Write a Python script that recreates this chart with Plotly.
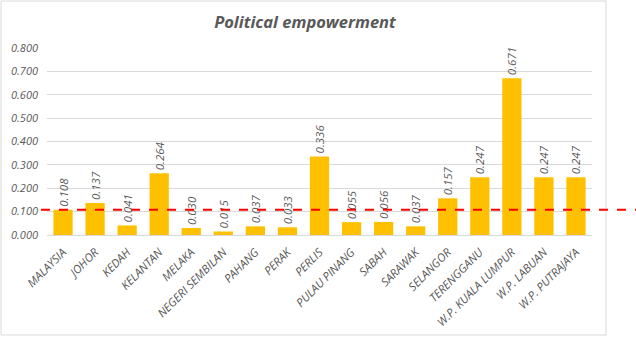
import plotly.graph_objects as go

states = ["MALAYSIA", "JOHOR", "KEDAH", "KELANTAN", "MELAKA", "NEGERI SEMBILAN",
          "PAHANG", "PERAK", "PERLIS", "PULAU PINANG", "SABAH", "SARAWAK",
          "SELANGOR", "TERENGGANU", "W.P. KUALA LUMPUR", "W.P. LABUAN", "W.P. PUTRAJAYA"]
scores = [0.108, 0.137, 0.041, 0.264, 0.030, 0.015, 0.037, 0.033, 0.336,
          0.055, 0.056, 0.037, 0.157, 0.247, 0.671, 0.247, 0.247]
national_avg = 0.108
y_ticks = [0.0, 0.1, 0.2, 0.3, 0.4, 0.5, 0.6, 0.7, 0.8]

W, H = 636, 337
L, R, T, B = 47, 44, 48, 102
pw, ph = W - L - R, H - T - B

def px_x(x):
    return (x - L) / pw

def px_y(y):
    return (H - B - y) / ph

grey = "#595959"
font_family = "'Open Sans', Lato, sans-serif"

fig = go.Figure()
fig.add_trace(go.Bar(
    x=states, y=scores,
    marker=dict(color="#FFC000", line=dict(width=0)),
    text=[f"<i>{v:.3f}</i>" for v in scores],
    textposition="outside",
    textangle=-90,
    constraintext="none",
    textfont=dict(family=font_family, size=11.5, color=grey),
    cliponaxis=False,
))

fig.update_layout(
    width=W, height=H,
    margin=dict(l=L, r=R, t=T, b=B),
    paper_bgcolor="white", plot_bgcolor="white",
    bargap=0.4,
    showlegend=False,
    title=dict(
        text="<b><i>Political empowerment</i></b>",
        font=dict(family=font_family, size=16.5, color=grey),
        x=305 / W, xanchor="center", xref="container",
        y=1 - 22 / H, yanchor="middle",
    ),
    xaxis=dict(
        tickangle=-45,
        tickmode="array",
        tickvals=states,
        ticktext=[f"<i>{s}</i>" for s in states],
        tickfont=dict(family=font_family, size=11.5, color=grey),
        showline=True, linecolor="#D9D9D9", linewidth=1,
        ticks="",
        ticklabelstandoff=5,
        automargin=False,
    ),
    yaxis=dict(
        range=[0, 0.8],
        tickmode="array",
        tickvals=y_ticks,
        ticktext=[f"<i>{v:.3f}</i>" for v in y_ticks],
        tickfont=dict(family=font_family, size=11, color=grey),
        showgrid=True, gridcolor="#D9D9D9", gridwidth=1,
        zeroline=False,
        ticklabelstandoff=8,
        automargin=False,
    ),
    shapes=[
        # chart frame
        dict(type="rect", xref="paper", yref="paper",
             x0=px_x(1), x1=px_x(606), y0=px_y(335), y1=px_y(1),
             line=dict(color="#D9D9D9", width=1), fillcolor="rgba(0,0,0,0)",
             layer="below"),
        # national average reference line
        dict(type="line", xref="paper", yref="y",
             x0=px_x(41), x1=px_x(636), y0=national_avg, y1=national_avg,
             line=dict(color="#FF0000", width=2, dash="dash")),
    ],
)

fig.write_html("out.html")
